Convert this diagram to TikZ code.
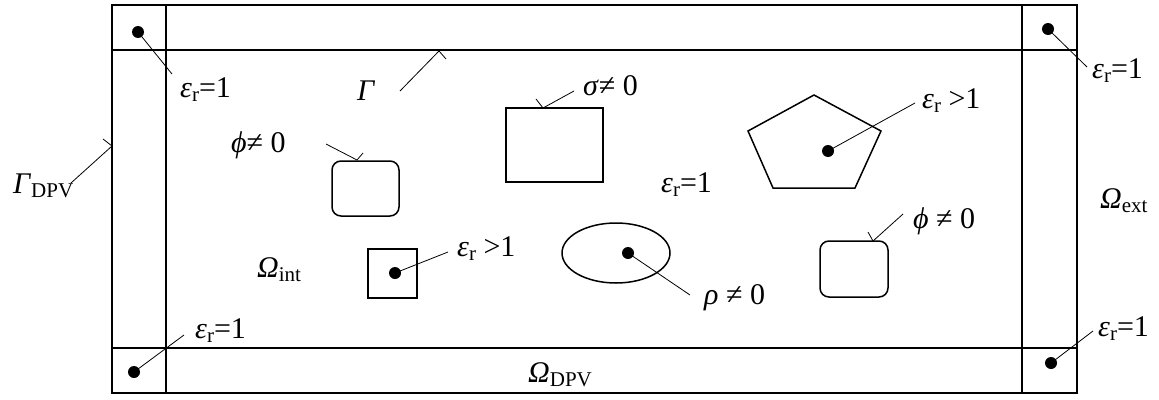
\documentclass[tikz,border=0pt]{standalone}
\usepackage{fontspec}
\setmainfont{Liberation Serif}
\newcommand\sbs[1]{\raisebox{-0.15em}{\fontsize{21}{21}\selectfont #1}}
\newcommand\gr[1]{\textit{#1}}
\begin{document}
\begin{tikzpicture}[x=1pt,y=-1pt,
  outer/.style={line width=2pt},
  inner/.style={line width=1.4pt},
  shp/.style={line width=1.5pt},
  lead/.style={line width=0.8pt},
  dotc/.style={circle,fill=black,inner sep=0pt,minimum size=12pt},
  lbl/.style={anchor=base west,inner sep=0pt,font=\fontsize{30}{33}\selectfont}]
\useasboundingbox (0,0) rectangle (1159,399);
% frame
\draw[outer] (112,5) rectangle (1077,393);
\draw[inner] (166,5) -- (166,393) (1022,5) -- (1022,393)
             (112,50) -- (1077,50) (112,348) -- (1077,348);
% shapes
\draw[shp] (506,108) rectangle (603,182);
\draw[shp,rounded corners=9pt] (332,161) rectangle (399,216);
\draw[shp,rounded corners=9pt] (820,241) rectangle (888,297);
\draw[shp] (368,249) rectangle (417,298);
\draw[shp] (616,253) ellipse [x radius=54, y radius=30];
\draw[shp] (814,95) -- (881,131) -- (855,188) -- (773,188) -- (748,131) -- cycle;
% dots
\node[dotc] (d1) at (138,32) {};
\node[dotc] (d2) at (1048,29) {};
\node[dotc] (d3) at (134,372) {};
\node[dotc] (d4) at (1051,363) {};
\node[dotc] (d5) at (828,151) {};
\node[dotc] (d6) at (395,273) {};
\node[dotc] (d7) at (628,253) {};
% labels
\node[lbl] (l1) at (180,97) {\gr{ε}\sbs{r}=1};
\node[lbl] (l2) at (1092,78) {\gr{ε}\sbs{r}=1};
\node[lbl] (l3) at (195,338) {\gr{ε}\sbs{r}=1};
\node[lbl] (l4) at (1098,336) {\gr{ε}\sbs{r}=1};
\node[lbl] (l5) at (13,193) {\gr{Γ}\sbs{DPV}};
\node[lbl] (l6) at (357,100) {\gr{Γ}};
\node[lbl] (l7) at (583,95) {\gr{σ}≠ 0};
\node[lbl] (l8) at (231,152) {\gr{ϕ}≠ 0};
\node[lbl] (l9) at (661,192) {\gr{ε}\sbs{r}=1};
\node[lbl] (l10) at (922,108) {\gr{ε}\sbs{r} >1};
\node[lbl] (l11) at (1100,208) {\gr{Ω}\sbs{ext}};
\node[lbl] (l12) at (257,277) {\gr{Ω}\sbs{int}};
\node[lbl] (l13) at (457,256) {\gr{ε}\sbs{r} >1};
\node[lbl] (l14) at (704,304) {\gr{ρ} ≠ 0};
\node[lbl] (l15) at (913,228) {\gr{ϕ} ≠ 0};
\node[lbl] (l16) at (528,382) {\gr{Ω}\sbs{DPV}};
% leader end points
\coordinate (c1) at (172,74);
\coordinate (c2) at (1087,67);
\coordinate (c3) at (184,335);
\coordinate (c4) at (1093,331);
\coordinate (c5) at (915,103);
\coordinate (c6) at (448,252);
\coordinate (c7) at (690,295);
\draw[lead] (d1.center) -- (c1);
\draw[lead] (d2.center) -- (c2);
\draw[lead] (d3.center) -- (c3);
\draw[lead] (d4.center) -- (c4);
\draw[lead] (d5.center) -- (c5);
\draw[lead] (d6.center) -- (c6);
\draw[lead] (d7.center) -- (c7);
% hooked leaders
\coordinate (g1a) at (71,183);  \coordinate (g1b) at (112,146); \coordinate (g1c) at (103,139);
\coordinate (g2a) at (400,91);  \coordinate (g2b) at (439,51);  \coordinate (g2c) at (446,59);
\coordinate (g3a) at (574,91);  \coordinate (g3b) at (543,108); \coordinate (g3c) at (536,99);
\coordinate (g4a) at (326,144); \coordinate (g4b) at (357,160); \coordinate (g4c) at (363,153);
\coordinate (g5a) at (903,214); \coordinate (g5b) at (873,241); \coordinate (g5c) at (868,232);
\draw[lead] (g1a) -- (g1b) -- (g1c);
\draw[lead] (g2a) -- (g2b) -- (g2c);
\draw[lead] (g3a) -- (g3b) -- (g3c);
\draw[lead] (g4a) -- (g4b) -- (g4c);
\draw[lead] (g5a) -- (g5b) -- (g5c);
\end{tikzpicture}
\end{document}
